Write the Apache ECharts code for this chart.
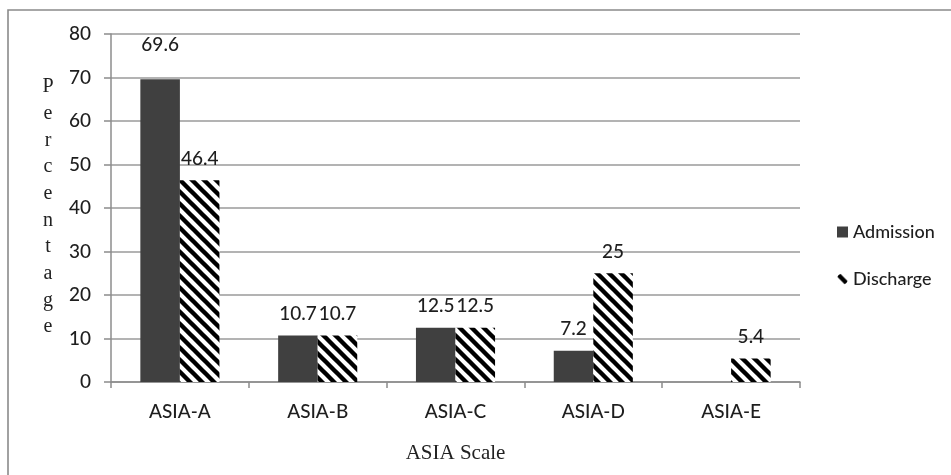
<!DOCTYPE html>
<html>
<head>
<meta charset="utf-8">
<title>ASIA Scale</title>
<script src="https://cdn.jsdelivr.net/npm/echarts@6/dist/echarts.min.js"></script>
<style>
  html, body { margin: 0; padding: 0; background: #fff; }
  #chart { width: 951px; height: 475px; }
</style>
</head>
<body>
<div id="chart"></div>
<script>
// ASIA grades at admission and at discharge (percentage of patients)
const categories = ['ASIA-A', 'ASIA-B', 'ASIA-C', 'ASIA-D', 'ASIA-E'];
const admission = [69.6, 10.7, 12.5, 7.2, null];
const discharge = [46.4, 10.7, 12.5, 25, 5.4];
const yTicks = [0, 10, 20, 30, 40, 50, 60, 70, 80];

const labelFont = 'Lato, "Liberation Sans", sans-serif';
const serifFont = '"Liberation Serif", "DejaVu Serif", serif';

// Black diagonal stripes on white for the discharge bars
function hatchPattern() {
  const s = 12;
  const c = document.createElement('canvas');
  c.width = s; c.height = s;
  const g = c.getContext('2d');
  g.fillStyle = '#ffffff';
  g.fillRect(0, 0, s, s);
  g.strokeStyle = '#000000';
  g.lineWidth = 4.4;
  g.beginPath();
  for (let k = -1; k <= 1; k++) {
    g.moveTo(-2, -2 + k * s);
    g.lineTo(s + 2, s + 2 + k * s);
  }
  g.stroke();
  return { image: c, repeat: 'repeat' };
}

// Value labels sit above the bars; the tallest one is lifted a little more
function withLabels(values) {
  return values.map(v => {
    if (v === null) return { value: null, label: { show: false } };
    return { value: v, label: { distance: v > 60 ? 25 : 12 } };
  });
}

const chart = echarts.init(document.getElementById('chart'), null, { renderer: 'canvas' });

const valueLabel = {
  show: true,
  position: 'top',
  fontFamily: labelFont,
  fontSize: 19,
  fontWeight: 500,
  color: '#1e1e1e'
};

chart.setOption({
  animation: false,
  backgroundColor: '#ffffff',
  grid: { left: 111, right: 151, top: 34, bottom: 93, containLabel: false },
  legend: {
    orient: 'vertical',
    left: 832,
    top: 218,
    itemWidth: 11,
    itemHeight: 11,
    itemGap: 29,
    textStyle: { fontFamily: labelFont, fontSize: 18, fontWeight: 500, color: '#1e1e1e', padding: [0, 0, 0, 0] },
    data: [
      { name: 'Admission', icon: 'rect' },
      { name: 'Discharge', icon: 'circle' }
    ]
  },
  xAxis: {
    type: 'category',
    data: categories,
    name: 'ASIA Scale',
    nameLocation: 'middle',
    nameGap: 61,
    nameTextStyle: { fontFamily: serifFont, fontSize: 21, color: '#222' },
    axisLine: { lineStyle: { color: '#8c8c8c', width: 1.5 } },
    axisTick: { show: true, length: 6, lineStyle: { color: '#8c8c8c', width: 1.5 } },
    axisLabel: { fontFamily: labelFont, fontSize: 19, fontWeight: 500, color: '#1e1e1e', margin: 20 }
  },
  yAxis: {
    type: 'value',
    min: yTicks[0],
    max: yTicks[yTicks.length - 1],
    interval: yTicks[1] - yTicks[0],
    axisLine: { show: true, lineStyle: { color: '#8c8c8c', width: 1.5 } },
    axisTick: { show: true, length: 7, lineStyle: { color: '#8c8c8c', width: 1.5 } },
    axisLabel: { fontFamily: labelFont, fontSize: 19, fontWeight: 500, color: '#1e1e1e', margin: 20 },
    splitLine: { show: true, lineStyle: { color: '#9a9a9a', width: 1.6 } }
  },
  graphic: [
    {
      type: 'rect',
      shape: { x: 8, y: 10, width: 1200, height: 1000 },
      style: { fill: 'none', stroke: '#8a8a8a', lineWidth: 1.6 },
      silent: true,
      z: 0
    },
    {
      type: 'text',
      x: 48,
      y: 207,
      style: {
        text: 'Percentage'.split('').join('\n'),
        fontFamily: serifFont,
        fontSize: 20,
        lineHeight: 26.7,
        fill: '#222',
        align: 'center',
        verticalAlign: 'middle'
      },
      silent: true
    }
  ],
  series: [
    {
      name: 'Admission',
      type: 'bar',
      data: withLabels(admission),
      barWidth: '28.7%',
      barGap: '0%',
      itemStyle: { color: '#404040' },
      label: valueLabel
    },
    {
      name: 'Discharge',
      type: 'bar',
      data: withLabels(discharge),
      barWidth: '28.7%',
      barGap: '0%',
      itemStyle: { color: hatchPattern() },
      label: valueLabel
    }
  ]
});
</script>
</body>
</html>
